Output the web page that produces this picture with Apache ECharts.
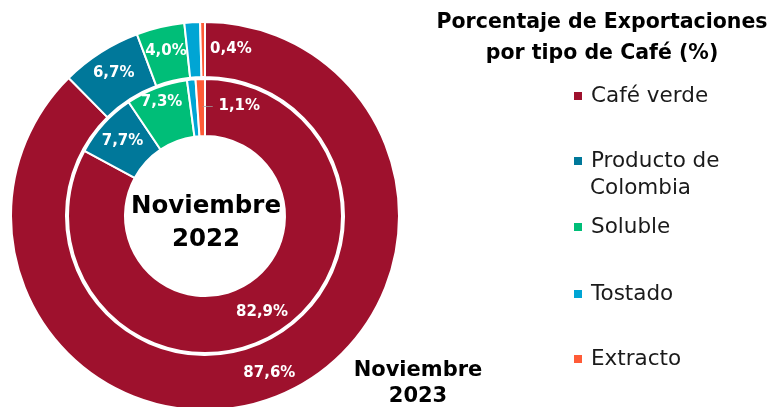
<!DOCTYPE html>
<html><head><meta charset="utf-8">
<script src="https://cdn.jsdelivr.net/npm/echarts@6/dist/echarts.min.js"></script>
<style>html,body{margin:0;padding:0;background:#fff}#c{width:781px;height:407px}</style>
</head><body><div id="c"></div>
<script>
const categories = ['Café verde', 'Producto de Colombia', 'Soluble', 'Tostado', 'Extracto'];
const colors = ['#9E112D', '#00789A', '#00BE78', '#00A5D4', '#FF5B37'];
const values2023 = [87.6, 6.7, 4.0, 1.3, 0.4];
const values2022 = [82.9, 7.7, 7.3, 1.0, 1.1];
const titleText = 'Porcentaje de Exportaciones\npor tipo de Café (%)';
const innerTitle = 'Noviembre\n2022';
const outerTitle = 'Noviembre\n2023';

const FONT = 'DejaVu Sans';
const fmt = v => v.toFixed(1).replace('.', ',') + '%';

function buildData(vals, ring) {
  return categories.map((name, i) => {
    const d = { name, value: vals[i], itemStyle: { color: colors[i] } };
    if (name === 'Tostado') d.label = { show: false };
    if (ring === 'outer' && name === 'Extracto') d.label = { offset: [28, 3] };
    if (ring === 'inner' && name === 'Extracto') d.label = { offset: [30, 2], formatter: p => '{l|—} ' + fmt(p.value) };
    if (ring === 'inner' && name === 'Soluble') d.label = { offset: [-4, -10] };
    return d;
  });
}

const labelBase = {
  show: true, position: 'inside', color: '#fff', fontFamily: FONT, fontWeight: 'bold', fontSize: 15,
  formatter: p => fmt(p.value),
  rich: { l: { color: '#A0A0A0', fontSize: 11, fontWeight: 'normal', fontFamily: FONT } }
};

const legendNames = categories;
const legendTops = [85, 150, 216, 283, 348];

const chart = echarts.init(document.getElementById('c'));
chart.setOption({
  animation: false,
  color: colors,
  title: [
    { text: titleText, left: 597, top: 2, textAlign: 'center',
      textStyle: { fontFamily: FONT, fontWeight: 'bold', fontSize: 20.5, lineHeight: 31, color: '#000' } },
    { text: innerTitle, left: 201, top: 185, textAlign: 'center',
      textStyle: { fontFamily: FONT, fontWeight: 'bold', fontSize: 24.5, lineHeight: 33, color: '#000' } },
    { text: outerTitle, left: 413, top: 353, textAlign: 'center',
      textStyle: { fontFamily: FONT, fontWeight: 'bold', fontSize: 21, lineHeight: 26, color: '#000' } }
  ],
  legend: legendNames.map((n, i) => ({
    data: [n], orient: 'vertical', left: 572, top: legendTops[i], padding: 0,
    icon: 'rect', itemWidth: 10, itemHeight: 10, selectedMode: false,
    formatter: name => name === 'Producto de Colombia' ? 'Producto de' : name,
    textStyle: { fontFamily: FONT, fontSize: 21.5, color: '#1a1a1a', padding: [0, 0, 0, 3] }
  })),
  graphic: [
    { type: 'text', left: 590, top: 177, style: { text: 'Colombia', font: '21.5px "' + FONT + '"', fill: '#1a1a1a' } }
  ],
  series: [
    { name: '2022', type: 'pie', center: [205, 216], radius: [80, 137], startAngle: 90, clockwise: true,
      avoidLabelOverlap: false, label: labelBase, labelLine: { show: false },
      itemStyle: { borderColor: '#fff', borderWidth: 2 },
      data: buildData(values2022, 'inner') },
    { name: '2023', type: 'pie', center: [205, 216], radius: [139, 194], startAngle: 90, clockwise: true,
      avoidLabelOverlap: false, label: labelBase, labelLine: { show: false },
      itemStyle: { borderColor: '#fff', borderWidth: 2 },
      data: buildData(values2023, 'outer') }
  ]
});
</script></body></html>
